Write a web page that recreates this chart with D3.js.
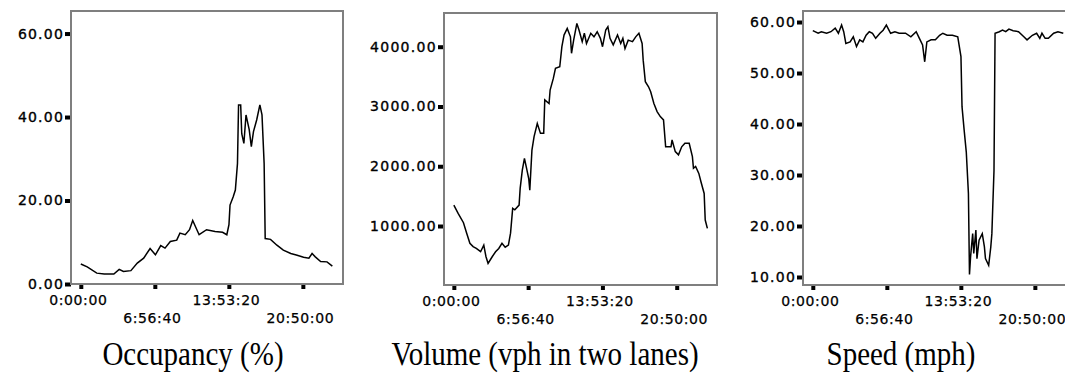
<!DOCTYPE html>
<html>
<head>
<meta charset="utf-8">
<script src="https://cdn.jsdelivr.net/npm/d3@7"></script>
<style>
  body { margin: 0; background: #fff; }
  svg { display: block; }
</style>
</head>
<body>
<svg id="chart"></svg>
<script>
// time of day in hours
var xTickHours = [0, 25000 / 3600, 50000 / 3600, 75000 / 3600];
var xTickLabels = ["0:00:00", "6:56:40", "13:53:20", "20:50:00"];

var occTime = [0, 0.6, 1.5, 2.2, 3.1, 3.6, 4.0, 4.7, 5.3, 5.9, 6.5, 7.0, 7.5, 7.9, 8.4, 9.0, 9.3, 9.8, 10.2, 10.5,
    11.1, 11.8, 12.6, 13.3, 13.7, 13.9, 14.0, 14.3, 14.5, 14.7, 14.8, 15.0, 15.1, 15.3, 15.5, 15.8, 16.0, 16.2, 16.5,
    16.8, 17.0, 17.2, 17.3, 17.8, 18.4, 19.0, 19.7, 20.3, 20.9, 21.4, 21.7, 22.0, 22.5, 23.1, 23.6];
var occValues = [4.8, 4.1, 2.6, 2.4, 2.4, 3.5, 3.0, 3.2, 5.0, 6.2, 8.5, 7.0, 9.2, 8.6, 10.2, 10.5, 12.2, 11.8, 13.0, 15.2,
    11.8, 13.0, 12.6, 12.4, 11.8, 14.2, 18.9, 20.9, 22.5, 28.9, 42.9, 42.9, 36.0, 33.7, 40.5, 37.0, 32.9, 36.5, 39.3,
    42.9, 40.5, 28.9, 10.9, 10.7, 9.3, 8.1, 7.3, 6.9, 6.4, 6.2, 7.3, 6.5, 5.4, 5.3, 4.3];

var volTime = [0, 0.4, 0.9, 1.2, 1.5, 1.8, 2.1, 2.5, 2.8, 3.0, 3.2, 3.6, 3.9, 4.2, 4.5, 4.8, 5.1, 5.3, 5.5, 5.7,
    6.1, 6.2, 6.4, 6.6, 6.8, 7.0, 7.1, 7.3, 7.5, 7.8, 8.1, 8.4, 8.5, 8.9, 9.0, 9.3, 9.5, 9.9, 10.1, 10.3,
    10.6, 10.9, 11.0, 11.2, 11.5, 11.7, 12.0, 12.2, 12.4, 12.8, 13.1, 13.4, 13.7, 13.9, 14.2, 14.4, 14.6, 14.9, 15.3, 15.6,
    15.8, 16.0, 16.3, 16.7, 17.0, 17.3, 17.6, 17.7, 17.9, 18.2, 18.4, 18.7, 19.0, 19.3, 19.6, 19.8, 20.3, 20.4, 20.7, 21.0,
    21.3, 21.6, 22.0, 22.3, 22.4, 22.6, 22.9, 23.1, 23.4, 23.5, 23.7];
var volValues = [1350, 1210, 1055, 880, 710, 655, 625, 570, 680, 490, 375, 490, 570, 625, 710, 645, 680, 880, 1295, 1270,
    1350, 1630, 1935, 2130, 1965, 1795, 1600, 2270, 2495, 2715, 2550, 2550, 3110, 3050, 3275, 3470, 3640, 3665, 4000, 4195,
    4305, 4165, 3890, 4110, 4390, 4280, 4085, 4225, 4055, 4225, 4165, 4250, 4140, 4000, 4280, 4335, 4140, 4030, 4195, 4055,
    4140, 3970, 4110, 4085, 4165, 4225, 4055, 3775, 3415, 3330, 3245, 3050, 2915, 2830, 2775, 2325, 2325, 2440, 2245, 2190,
    2325, 2385, 2385, 2160, 1965, 1995, 1880, 1740, 1545, 1100, 960];

var spdTime = [0, 0.5, 0.8, 1.3, 1.7, 2.1, 2.4, 2.7, 2.9, 3.1, 3.5, 3.8, 4.1, 4.4, 4.7, 5.0, 5.3, 5.6, 5.9, 6.3,
    6.6, 6.9, 7.3, 7.7, 8.1, 8.7, 9.2, 9.7, 10.0, 10.3, 10.5, 10.7, 11.1, 11.5, 11.9, 12.2, 12.6, 13.1, 13.6, 13.9,
    14.0, 14.2, 14.4, 14.6, 14.7, 14.8, 15.0, 15.1, 15.3, 15.4, 15.6, 15.9, 16.1, 16.2, 16.5, 16.7, 16.8, 17.0, 17.1, 17.5,
    17.8, 18.1, 18.4, 18.8, 19.3, 19.8, 20.1, 20.6, 21.0, 21.3, 21.5, 21.8, 22.1, 22.6, 23.0, 23.5];
var spdValues = [58.3, 57.8, 58.1, 57.8, 58.1, 58.8, 57.8, 59.4, 58.1, 55.8, 56.1, 57.1, 55.2, 56.5, 56.1, 57.4, 58.1, 57.8, 56.8, 57.8,
    58.4, 59.4, 57.8, 58.1, 57.8, 57.8, 57.1, 58.1, 56.8, 55.5, 52.2, 56.1, 56.5, 56.5, 57.4, 57.8, 57.4, 57.4, 57.1, 53.2,
    43.4, 38.8, 34.5, 26.4, 10.5, 13.9, 18.5, 14.6, 19.2, 13.6, 17.2, 18.5, 15.9, 13.6, 12.3, 15.9, 18.5, 30.9, 57.8, 58.1,
    58.4, 58.1, 58.6, 58.3, 58.1, 57.1, 56.5, 57.4, 57.8, 56.8, 57.8, 56.8, 56.8, 57.8, 58.1, 57.8];

var occTicks = [0, 20, 40, 60];
var volTicks = [1000, 2000, 3000, 4000];
var spdTicks = [10, 20, 30, 40, 50, 60];

var titles = ["Occupancy (%)", "Volume (vph in two lanes)", "Speed (mph)"];

var svgWidth = 1065, svgHeight = 376;
var svg = d3.select("#chart").attr("width", svgWidth).attr("height", svgHeight);

function toRows(times, values) {
    return times.map(function(t, i) { return { t: t, v: values[i] }; });
}

var panels = [
    { left: 71, right: 343, top: 11, bottom: 284, yDomain: [0, 65.4], ticks: occTicks, data: toRows(occTime, occValues), titleX: 193, spacing: "1.2px" },
    { left: 444, right: 717, top: 13, bottom: 285, yDomain: [13, 4564], ticks: volTicks, data: toRows(volTime, volValues), titleX: 545, spacing: "1.3px" },
    { left: 803, right: 1075, top: 11, bottom: 285, yDomain: [8.43, 62.16], ticks: spdTicks, data: toRows(spdTime, spdValues), titleX: 901, spacing: "1.2px" }
];

panels.forEach(function(p, k) {
    var x = d3.scaleLinear().domain([-0.92, 24.6]).range([p.left, p.right]);
    var y = d3.scaleLinear().domain(p.yDomain).range([p.bottom, p.top]);

    var g = svg.append("g");

    // y axis
    var yAxis = g.append("g")
        .attr("transform", "translate(" + p.left + ",0)")
        .call(d3.axisLeft(y).tickValues(p.ticks).tickSize(6).tickPadding(1).tickFormat(d3.format(".2f")));
    yAxis.select(".domain").remove();
    yAxis.selectAll("line").attr("stroke", "#000").attr("stroke-width", 4);
    yAxis.selectAll("text")
        .attr("fill", "#000")
        .attr("stroke", "#000")
        .attr("stroke-width", 0.35)
        .style("font-family", "'DejaVu Sans', sans-serif")
        .style("font-size", "14px")
        .style("letter-spacing", p.spacing);

    // x axis, labels staggered on two rows
    var xAxis = g.append("g")
        .attr("transform", "translate(0," + p.bottom + ")")
        .call(d3.axisBottom(x).tickValues(xTickHours).tickSize(5).tickPadding(3)
            .tickFormat(function(d, i) { return xTickLabels[i]; }));
    xAxis.select(".domain").remove();
    xAxis.selectAll("line").attr("stroke", "#000").attr("stroke-width", 4);
    xAxis.selectAll("text")
        .attr("fill", "#000")
        .attr("stroke", "#000")
        .attr("stroke-width", 0.25)
        .attr("x", -3)
        .attr("y", function(d, i) { return i % 2 === 0 ? 11 : 29; })
        .style("font-family", "'DejaVu Sans', sans-serif")
        .style("font-size", "14px")
        .style("letter-spacing", "0.6px");

    // frame
    g.append("rect")
        .attr("x", p.left)
        .attr("y", p.top)
        .attr("width", p.right - p.left)
        .attr("height", p.bottom - p.top)
        .attr("fill", "none")
        .attr("stroke", "#7f7f7f")
        .attr("stroke-width", 2);

    var line = d3.line()
        .x(function(d) { return x(d.t); })
        .y(function(d) { return y(d.v); });

    g.append("path")
        .datum(p.data)
        .attr("fill", "none")
        .attr("stroke", "#000")
        .attr("stroke-width", 1.5)
        .attr("d", line);

    // condensed, tall serif caption
    g.append("text")
        .attr("transform", "translate(" + p.titleX + ",365) scale(1,1.15)")
        .attr("text-anchor", "middle")
        .style("font-family", "'Liberation Serif', 'Times New Roman', serif")
        .style("font-size", "29px")
        .text(titles[k]);
});
</script>
</body>
</html>
